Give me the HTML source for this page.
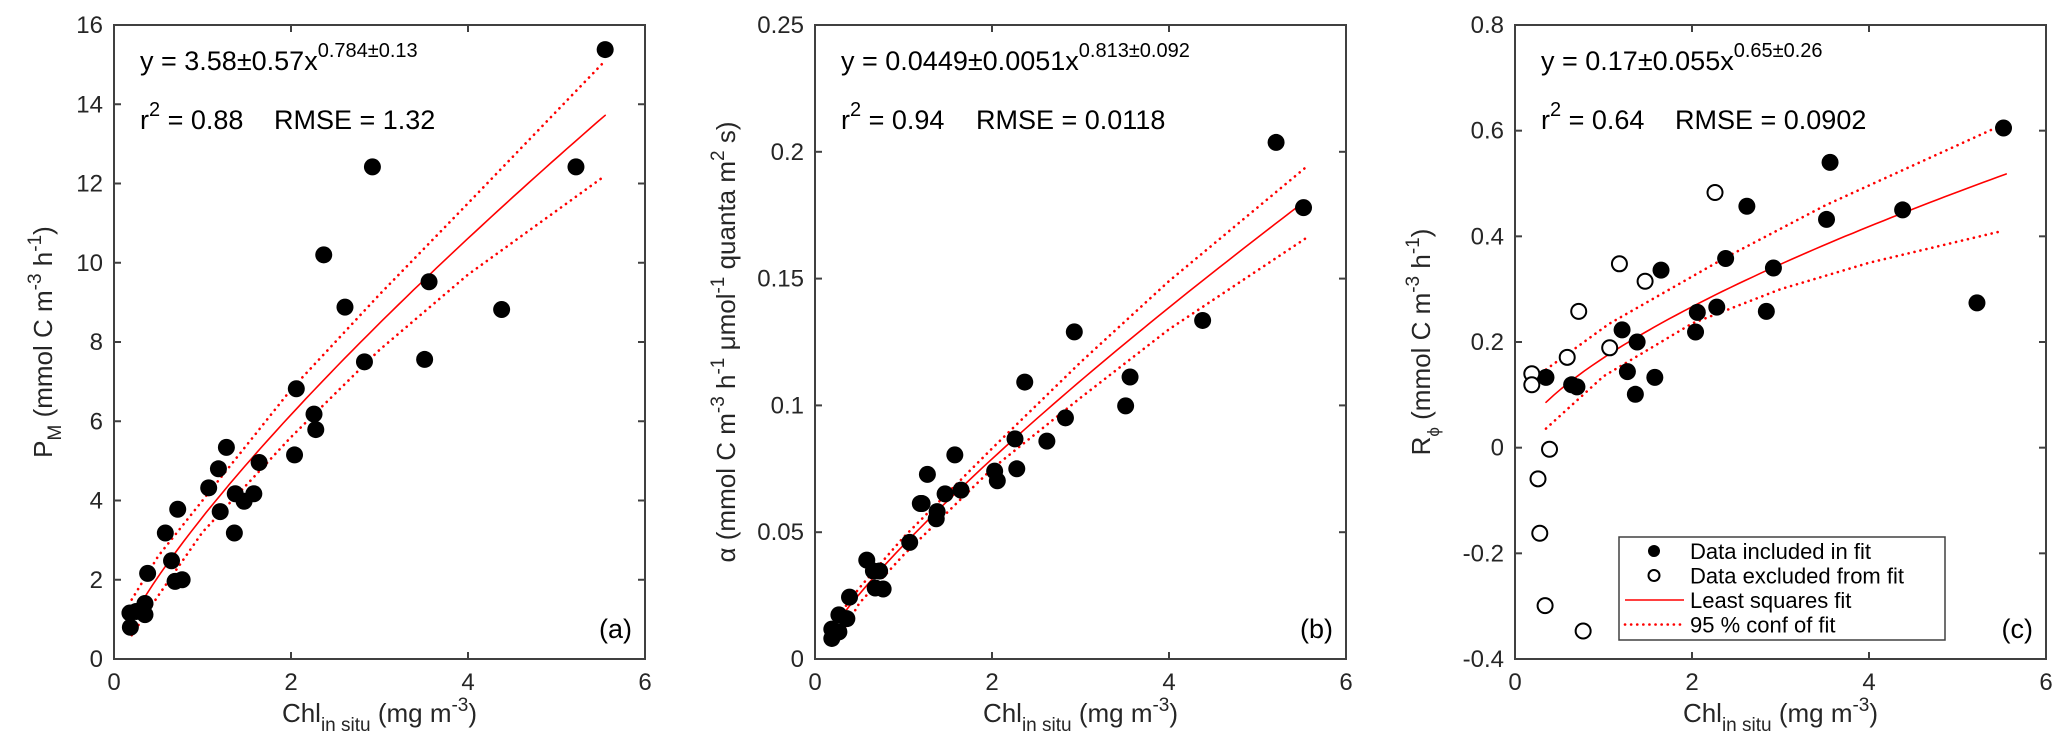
<!DOCTYPE html>
<html><head><meta charset="utf-8">
<style>
html,body{margin:0;padding:0;background:#fff;}
svg{display:block;font-family:"Liberation Sans",Arial,sans-serif;}
</style></head>
<body>
<svg id="fig" width="2067" height="746" viewBox="0 0 2067 746" xmlns="http://www.w3.org/2000/svg"></svg>
<script>
// ---- Panel (a) data ----
const aX = [0.185,0.18,0.25,0.35,0.35,0.38,0.58,0.65,0.69,0.77,0.72,1.07,1.18,1.27,1.20,1.36,1.37,1.47,1.58,1.64,2.04,2.06,2.26,2.28,2.37,2.61,2.83,2.92,3.51,3.56,4.38,5.22,5.55];
const aY = [0.80,1.16,1.2,1.40,1.12,2.16,3.18,2.48,1.96,2.0,3.78,4.32,4.80,5.34,3.72,3.18,4.17,3.98,4.17,4.96,5.15,6.82,6.18,5.79,10.2,8.88,7.50,12.42,7.56,9.52,8.82,12.42,15.38];
const aFit = [3.58,0.784];
const aBandX = [0.2,0.5,1,2,3,4,5.55];
const aUpper = [1.5,2.6,4.0,6.8,9.2,11.5,15.1];
const aLower = [0.6,1.6,3.2,5.6,7.8,9.7,12.2];
const aYTicks = [0,2,4,6,8,10,12,14,16];
const aYTickLabels = ["0","2","4","6","8","10","12","14","16"];

// ---- Panel (b) data ----
const bX = [0.19,0.19,0.27,0.27,0.36,0.39,0.585,0.66,0.73,0.68,0.77,1.07,1.19,1.21,1.27,1.37,1.38,1.47,1.58,1.65,2.03,2.06,2.26,2.28,2.37,2.62,2.83,2.93,3.51,3.56,4.38,5.21,5.52];
const bY = [0.0081,0.0118,0.0107,0.0174,0.0159,0.0244,0.039,0.0347,0.0347,0.028,0.0276,0.046,0.0613,0.0613,0.0728,0.0553,0.0581,0.0651,0.0805,0.0666,0.0741,0.0703,0.0868,0.075,0.1092,0.0859,0.0951,0.129,0.0998,0.1112,0.1335,0.2037,0.178];
const bFit = [0.0449,0.813];
const bBandX = [0.35,0.5,1,2,3,4,5.55];
const bUpper = [0.021,0.028,0.048,0.083,0.117,0.149,0.194];
const bLower = [0.013,0.022,0.041,0.075,0.103,0.130,0.166];
const bYTicks = [0,0.05,0.1,0.15,0.2,0.25];
const bYTickLabels = ["0","0.05","0.1","0.15","0.2","0.25"];

// ---- Panel (c) data ----
const cX = [0.35,0.64,0.70,1.21,1.27,1.36,1.38,1.58,1.65,2.04,2.06,2.28,2.38,2.62,2.84,2.92,3.52,3.56,4.38,5.22,5.52];
const cY = [0.133,0.119,0.115,0.223,0.144,0.101,0.200,0.133,0.336,0.219,0.256,0.266,0.358,0.457,0.258,0.340,0.432,0.540,0.450,0.274,0.605];
const cExX = [0.19,0.19,0.26,0.28,0.34,0.39,0.59,0.72,0.77,1.07,1.18,1.47,2.26];
const cExY = [0.140,0.119,-0.059,-0.162,-0.299,-0.003,0.171,0.258,-0.347,0.189,0.348,0.315,0.483];
const cFit = [0.17,0.65];
const cBandX = [0.35,1.06,2.38,3.51,5.52];
const cUpper = [0.148,0.234,0.36,0.459,0.612];
const cLowerX = [0.35,1,2,3,4,5.5];
const cLower = [0.036,0.135,0.235,0.30,0.35,0.41];
const cYTicks = [-0.4,-0.2,0,0.2,0.4,0.6,0.8];
const cYTickLabels = ["-0.4","-0.2","0","0.2","0.4","0.6","0.8"];

const xTicks = [0,2,4,6];
const xTickLabels = ["0","2","4","6"];

const NS = "http://www.w3.org/2000/svg";
const svg = document.getElementById('fig');
function mk(tag, attrs, parent){
  const e = document.createElementNS(NS, tag);
  for (const k in attrs) e.setAttribute(k, attrs[k]);
  (parent||svg).appendChild(e);
  return e;
}
const TOP = 25, H = 634, W = 531;
const DOTS = '0.1 6';

function panel(opt){
  const L = opt.left;
  const g = mk('g', {});
  
  
  const sx = v => L + (v - 0) / 6 * W;
  const sy = v => TOP + H - (v - opt.ymin) / (opt.ymax - opt.ymin) * H;

  function poly(xs, ys, dashed, nm){
    let d = '';
    xs.forEach((x,i)=>{ d += (i?'L':'M') + sx(x).toFixed(1) + ',' + sy(ys[i]).toFixed(1); });
    const p = mk('path', {d:d, fill:'none', stroke:'#ff0000', 'stroke-width': dashed?2.6:1.6, 'stroke-dasharray': dashed?DOTS:'none', 'stroke-linecap':'round'}, g);
    
    
  }
  poly(opt.bandX, opt.upper, true, 'upper-conf-band');
  poly(opt.lowerX || opt.bandX, opt.lower, true, 'lower-conf-band');
  const fx = [], fy = [];
  for (let i = 0; i <= 60; i++){ const x = opt.fitStart + (5.55 - opt.fitStart) * i / 60; fx.push(x); fy.push(opt.fit[0] * Math.pow(x, opt.fit[1])); }
  poly(fx, fy, false, 'fit-line');

  opt.xs.forEach((x,i)=>{
    const c = mk('circle', {cx:sx(x), cy:sy(opt.ys[i]), r:8.5, fill:'#000'}, g);
    
    
  });
  if (opt.exX){
    opt.exX.forEach((x,i)=>{
      const c = mk('circle', {cx:sx(x), cy:sy(opt.exY[i]), r:7.5, fill:'#fff', stroke:'#000', 'stroke-width':2}, g);
      
      
    });
  }

  const box = mk('rect', {x:L, y:TOP, width:W, height:H, fill:'none', stroke:'#404040', 'stroke-width':2}, g);
  
  
  xTicks.forEach((t,i)=>{
    const x = sx(t);
    mk('line', {x1:x, x2:x, y1:TOP+H, y2:TOP+H-7, stroke:'#404040','stroke-width':2}, g);
    mk('line', {x1:x, x2:x, y1:TOP, y2:TOP+7, stroke:'#404040','stroke-width':2}, g);
    const tx = mk('text', {x:x, y:TOP+H+31, 'font-size':24, fill:'#262626', 'text-anchor':'middle'}, g);
    tx.textContent = xTickLabels[i];
    
    
  });
  opt.yTicks.forEach((t,i)=>{
    const y = sy(t);
    mk('line', {x1:L, x2:L+7, y1:y, y2:y, stroke:'#404040','stroke-width':2}, g);
    mk('line', {x1:L+W, x2:L+W-7, y1:y, y2:y, stroke:'#404040','stroke-width':2}, g);
    const ty = mk('text', {x:L-11, y:y+8, 'font-size':24, fill:'#262626', 'text-anchor':'end'}, g);
    ty.textContent = opt.yTickLabels[i];
    
    
  });

  const eq = mk('text', {x:L+26, y:70, 'font-size':27, fill:'#000'}, g);
  eq.innerHTML = opt.eq + '<tspan dy="-13" font-size="20">' + opt.exp + '</tspan>';
  
  
  const r2 = mk('text', {x:L+26, y:129, 'font-size':27, fill:'#000'}, g);
  r2.innerHTML = 'r<tspan dy="-13" font-size="20">2</tspan><tspan dy="13"> = ' + opt.r2 + '</tspan><tspan x="' + (L+opt.rmseX) + '">RMSE = ' + opt.rmse + '</tspan>';
  
  
  const pl = mk('text', {x:L+W-13, y:638, 'font-size':27, fill:'#000', 'text-anchor':'end'}, g);
  pl.textContent = opt.label;
  
  

  const xt = mk('text', {x:L+W/2, y:722, 'font-size':26, fill:'#262626', 'text-anchor':'middle'}, g);
  xt.innerHTML = 'Chl<tspan dy="9" font-size="19">in situ</tspan><tspan dy="-9"> (mg m</tspan><tspan dy="-11" font-size="19">-3</tspan><tspan dy="11">)</tspan>';
  
  
  const yx = L - opt.ylabOff, yy = TOP + H/2;
  const yt = mk('text', {x:0, y:0, 'font-size':26, fill:'#262626', 'text-anchor':'middle', transform:'translate(' + yx + ',' + yy + ') rotate(-90)'}, g);
  yt.innerHTML = opt.ylab;
  
  
}

panel({name:'panel-a', left:114, ymin:0, ymax:16, xs:aX, ys:aY, fit:aFit, fitStart:0.35, bandX:aBandX, upper:aUpper, lower:aLower,
  yTicks:aYTicks, yTickLabels:aYTickLabels, eq:'y = 3.58±0.57x', exp:'0.784±0.13', r2:'0.88', rmse:'1.32', rmseX:160, label:'(a)', ylabOff:62,
  ylab:'P<tspan dy="9" font-size="19">M</tspan><tspan dy="-9"> (mmol C m</tspan><tspan dy="-11" font-size="19">-3</tspan><tspan dy="11"> h</tspan><tspan dy="-11" font-size="19">-1</tspan><tspan dy="11">)</tspan>'});
panel({name:'panel-b', left:815, ymin:0, ymax:0.25, xs:bX, ys:bY, fit:bFit, fitStart:0.2, bandX:bBandX, upper:bUpper, lower:bLower,
  yTicks:bYTicks, yTickLabels:bYTickLabels, eq:'y = 0.0449±0.0051x', exp:'0.813±0.092', r2:'0.94', rmse:'0.0118', rmseX:161, label:'(b)', ylabOff:80,
  ylab:'α (mmol C m<tspan dy="-11" font-size="19">-3</tspan><tspan dy="11"> h</tspan><tspan dy="-11" font-size="19">-1</tspan><tspan dy="11"> μmol</tspan><tspan dy="-11" font-size="19">-1</tspan><tspan dy="11"> quanta m</tspan><tspan dy="-11" font-size="19">2</tspan><tspan dy="11"> s)</tspan>'});
panel({name:'panel-c', left:1515, ymin:-0.4, ymax:0.8, xs:cX, ys:cY, exX:cExX, exY:cExY, fit:cFit, fitStart:0.35, bandX:cBandX, upper:cUpper, lowerX:cLowerX, lower:cLower,
  yTicks:cYTicks, yTickLabels:cYTickLabels, eq:'y = 0.17±0.055x', exp:'0.65±0.26', r2:'0.64', rmse:'0.0902', rmseX:160, label:'(c)', ylabOff:85,
  ylab:'R<tspan dy="9" font-size="17">ϕ</tspan><tspan dy="-9"> (mmol C m</tspan><tspan dy="-11" font-size="19">-3</tspan><tspan dy="11"> h</tspan><tspan dy="-11" font-size="19">-1</tspan><tspan dy="11">)</tspan>'});

const lg = mk('g', {});


mk('rect', {x:1619, y:537, width:326, height:103, fill:'#fff', stroke:'#404040', 'stroke-width':1.5}, lg);
const legItems = ['Data included in fit','Data excluded from fit','Least squares fit','95 % conf of fit'];
legItems.forEach((t,i)=>{
  const y = 551 + i*24.5;
  const it = mk('g', {}, lg);
  
  
  if (i===0) mk('circle', {cx:1654, cy:y, r:6, fill:'#000'}, it);
  if (i===1) mk('circle', {cx:1654, cy:y, r:5.5, fill:'#fff', stroke:'#000','stroke-width':2}, it);
  if (i===2) mk('line', {x1:1625, x2:1684, y1:y, y2:y, stroke:'#ff0000','stroke-width':1.6}, it);
  if (i===3) mk('line', {x1:1625, x2:1684, y1:y, y2:y, stroke:'#ff0000','stroke-width':2.6,'stroke-dasharray':DOTS,'stroke-linecap':'round'}, it);
  const tx = mk('text', {x:1690, y:y+8, 'font-size':22, fill:'#000'}, it);
  tx.textContent = t;
});
</script>
</body></html>
